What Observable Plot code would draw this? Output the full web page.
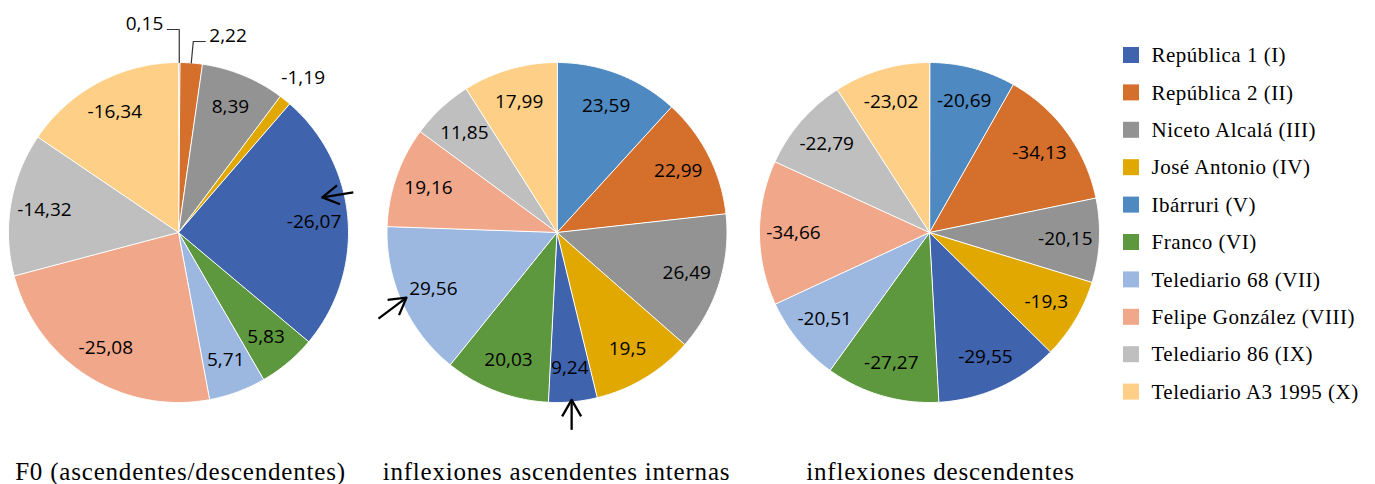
<!DOCTYPE html>
<html><head><meta charset="utf-8">
<script src="https://cdn.jsdelivr.net/npm/d3@7"></script>
<script src="https://cdn.jsdelivr.net/npm/@observablehq/plot@0.6"></script>
<style>body{margin:0;background:#fff} svg{display:block}</style>
</head><body><div id="chart"></div>
<script>
// ---- data ----
const series = ["República 1 (I)", "República 2 (II)", "Niceto Alcalá (III)", "José Antonio (IV)", "Ibárruri (V)", "Franco (VI)", "Telediario 68 (VII)", "Felipe González (VIII)", "Telediario 86 (IX)", "Telediario A3 1995 (X)"];
const colors = ["#3F63AD", "#D46F2C", "#939393", "#E0A800", "#4E89C1", "#5E983E", "#9CB8E0", "#F0A78A", "#BFBFBF", "#FECF86"];
const sliceOrder = ["Ibárruri (V)", "República 2 (II)", "Niceto Alcalá (III)", "José Antonio (IV)", "República 1 (I)", "Franco (VI)", "Telediario 68 (VII)", "Felipe González (VIII)", "Telediario 86 (IX)", "Telediario A3 1995 (X)"];
const f0Values = [0.15, 2.22, 8.39, -1.19, -26.07, 5.83, 5.71, -25.08, -14.32, -16.34];
const ascValues = [23.59, 22.99, 26.49, 19.5, 9.24, 20.03, 29.56, 19.16, 11.85, 17.99];
const descValues = [-20.69, -34.13, -20.15, -19.3, -29.55, -27.27, -20.51, -34.66, -22.79, -23.02];
const pieTitles = ["F0 (ascendentes/descendentes)", "inflexiones ascendentes internas", "inflexiones descendentes"];

// ---- layout ----
const W = 1375, H = 484, R = 170;
const centers = [[178, 232], [556.5, 232], [929, 232]];
const titleX = [180, 556, 940], titleY = 471;
const labelR = 0.8 * R;
const rad = a => a * Math.PI / 180;
const pt = (c, a, r) => ({x: c[0] + r * Math.sin(rad(a)), y: c[1] - r * Math.cos(rad(a))});
const fmt = v => String(v).replace(".", ",");

const pies = [f0Values, ascValues, descValues];
const slices = [];
pies.forEach((vals, p) => {
  const total = d3.sum(vals, Math.abs);
  let acc = 0;
  vals.forEach((v, i) => {
    const a0 = acc / total * 360; acc += Math.abs(v);
    const a1 = acc / total * 360;
    slices.push({pie: p, i, series: sliceOrder[i], value: v, a0, a1, mid: (a0 + a1) / 2});
  });
});

// slice polygons
const poly = [];
for (const s of slices) {
  const c = centers[s.pie], key = s.pie + "-" + s.i;
  poly.push({key, series: s.series, x: c[0], y: c[1]});
  const n = Math.max(2, Math.ceil((s.a1 - s.a0) / 0.5));
  for (let k = 0; k <= n; k++) {
    poly.push({key, series: s.series, ...pt(c, s.a0 + (s.a1 - s.a0) * k / n, R)});
  }
}

// labels: outside ones for the small slices of the first pie
const outside = {"0-0": {dy: -33, side: -1, dx: 0}, "0-1": {dy: -21, side: 1, dx: 2}, "0-3": {free: 1.17}};
const inLabels = [], outLabels = [], leaders = [];
for (const s of slices) {
  const c = centers[s.pie], key = s.pie + "-" + s.i, o = outside[key];
  if (!o) { inLabels.push({...pt(c, s.mid, labelR), text: fmt(s.value)}); continue; }
  if (o.free) { outLabels.push({...pt(c, s.mid, o.free * R), text: fmt(s.value), anchor: "middle"}); continue; }
  const e = pt(c, s.mid, R);
  const elbow = {x: e.x + o.dx, y: c[1] - R + o.dy};
  const end = {x: elbow.x + o.side * 12, y: elbow.y};
  leaders.push({key, ...e}, {key, ...elbow}, {key, ...end});
  outLabels.push({x: end.x + o.side * 4, y: elbow.y - 6, text: fmt(s.value), anchor: o.side < 0 ? "end" : "start"});
}

// annotation arrows (shaft + open head drawn as polylines)
const arrowDefs = [{pie: 0, angle: 76.3, r: 148, dx: 31, dy: -5}, {pie: 1, angle: 246.6, r: 164, dx: -28, dy: 21}, {pie: 1, angle: 175, r: 168, dx: 0, dy: 30}];
const headLen = 19, headHalf = 30;
const arrowPaths = [];
arrowDefs.forEach((a, j) => {
  const t = pt(centers[a.pie], a.angle, a.r);
  const tail = {x: t.x + a.dx, y: t.y + a.dy};
  const ang = Math.atan2(a.dy, a.dx);
  const w1 = {x: t.x + headLen * Math.cos(ang + rad(headHalf)), y: t.y + headLen * Math.sin(ang + rad(headHalf))};
  const w2 = {x: t.x + headLen * Math.cos(ang - rad(headHalf)), y: t.y + headLen * Math.sin(ang - rad(headHalf))};
  arrowPaths.push({k: "s" + j, ...tail}, {k: "s" + j, ...t});
  arrowPaths.push({k: "h" + j, ...w1}, {k: "h" + j, ...t}, {k: "h" + j, ...w2});
});

// legend
const legendX = 1123, legendY0 = 55, legendStep = 37.4, sw = 16;
const legend = series.map((s, i) => ({s, y: legendY0 + i * legendStep}));
const titles = pieTitles.map((t, i) => ({t, x: titleX[i], y: titleY}));

const sans = "'Open Sans', 'Liberation Sans', sans-serif";
const serif = "'Liberation Serif', 'DejaVu Serif', serif";

const chart = Plot.plot({
  width: W, height: H, margin: 0,
  x: {domain: [0, W], range: [0, W], axis: null},
  y: {domain: [0, H], range: [0, H], axis: null},
  color: {domain: series, range: colors},
  style: {background: "#fff"},
  marks: [
    Plot.line(poly, {x: "x", y: "y", z: "key", fill: "series", stroke: "white", strokeWidth: 1, curve: "linear-closed"}),
    Plot.text(inLabels, {x: "x", y: "y", text: "text", fontSize: 19, fontFamily: sans, fill: "#000", lineAnchor: "middle"}),
    Plot.line(leaders, {x: "x", y: "y", z: "key", stroke: "#333", strokeWidth: 1.2}),
    Plot.text(outLabels.filter(d => d.anchor === "middle"), {x: "x", y: "y", text: "text", textAnchor: "middle", fontSize: 19, fontFamily: sans, fill: "#000", lineAnchor: "middle"}),
    Plot.text(outLabels.filter(d => d.anchor === "end"), {x: "x", y: "y", text: "text", textAnchor: "end", fontSize: 19, fontFamily: sans, fill: "#000", lineAnchor: "middle"}),
    Plot.text(outLabels.filter(d => d.anchor === "start"), {x: "x", y: "y", text: "text", textAnchor: "start", fontSize: 19, fontFamily: sans, fill: "#000", lineAnchor: "middle"}),
    Plot.line(arrowPaths, {x: "x", y: "y", z: "k", stroke: "black", strokeWidth: 2.3, strokeLinecap: "butt"}),
    Plot.rect(legend, {x1: legendX, x2: legendX + sw, y1: d => d.y - sw / 2, y2: d => d.y + sw / 2, fill: "s"}),
    Plot.text(legend, {x: legendX + sw + 12, y: "y", text: "s", textAnchor: "start", fontSize: 21, fontFamily: serif, fill: "#000", lineAnchor: "middle"}),
    Plot.text(titles, {x: "x", y: "y", text: "t", fontSize: 25, fontFamily: serif, fill: "#000", lineAnchor: "middle"})
  ]
});
d3.select(chart).selectAll('g[font-size="21"]').attr("letter-spacing", "0.5px");
d3.select(chart).selectAll('g[font-size="25"]').attr("letter-spacing", "0.8px");
document.getElementById("chart").append(chart);
</script></body></html>
